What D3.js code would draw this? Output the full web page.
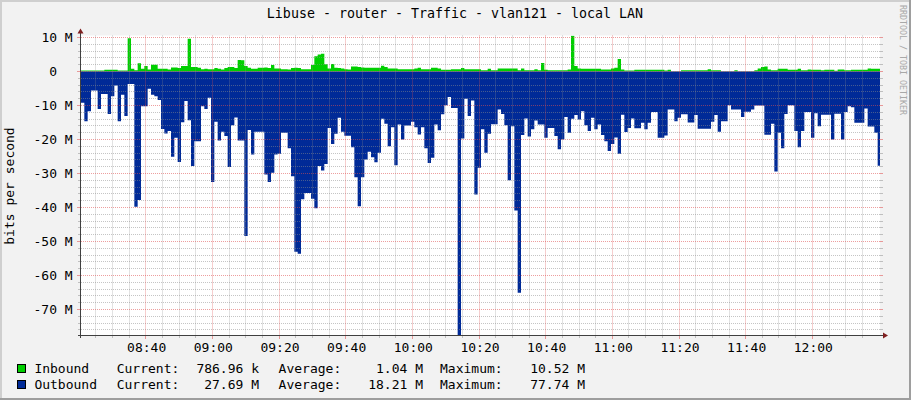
<!DOCTYPE html>
<html><head><meta charset="utf-8">
<script src="https://cdn.jsdelivr.net/npm/d3@7"></script>
<style>
html,body{margin:0;padding:0;background:#F2F2F2;}
svg{display:block;}
text{font-family:"DejaVu Sans Mono",monospace;fill:#000;}
</style></head><body>
<svg id="chart" width="911" height="400"></svg>
<script>
// ---------- data (Mbit/s, one sample per minute starting 08:20:36) ----------
const title = "Libuse - router - Traffic - vlan121 - local LAN";
const yTitle = "bits per second";
const watermark = "RRDTOOL / TOBI OETIKER";
const seriesNames = ["Inbound", "Outbound"];
const seriesColors = ["#00CF00", "#002A97"];
const inbound = [
0.3,0.3,0.3,0.3,0.3,0.3,0.3,0.5,0.5,0.5,
0.5,0.3,0.3,0.3,9.8,0.8,0.4,2.4,0.8,1.6,
0.6,2.0,2.0,0.8,0.8,0.8,0.6,1.2,1.2,1.0,
1.6,1.6,9.6,1.3,1.3,1.1,0.7,0.8,0.7,0.7,
1.0,0.8,0.6,1.0,1.3,1.3,1.0,3.4,3.3,1.6,
1.1,0.8,0.8,1.1,1.1,1.2,1.0,1.9,0.9,0.9,
0.7,0.7,0.6,1.0,1.1,1.0,0.7,0.7,0.7,1.9,
4.5,5.0,5.2,2.1,0.9,2.2,1.1,1.0,0.9,0.7,
0.6,1.5,1.5,1.3,1.2,1.1,1.1,1.1,1.1,1.1,
1.7,1.3,0.9,0.9,0.9,0.7,0.7,0.7,0.7,0.7,
0.9,1.1,0.7,0.7,0.7,1.1,1.1,0.9,0.5,0.5,
0.5,0.7,0.7,0.7,1.0,0.7,0.7,0.7,0.7,0.7,
0.4,0.4,0.8,0.4,0.4,0.9,0.9,0.9,0.9,0.9,
0.9,0.4,0.9,0.4,0.4,0.4,0.7,0.4,2.5,0.5,
0.4,0.4,0.4,0.4,0.4,0.4,0.6,10.52,1.6,0.9,
0.8,0.8,0.8,0.8,0.8,0.8,0.6,0.6,0.6,0.9,
1.1,3.7,0.6,0.3,0.3,0.3,0.5,0.5,0.5,0.5,
0.5,0.5,0.5,0.5,0.5,0.3,0.5,0.1,0.1,0.1,
0.4,0.4,0.4,0.4,0.4,0.4,0.4,0.4,0.7,0.4,
0.4,0.4,0.1,0.1,0.1,0.1,0.4,0.1,0.1,0.1,
0.1,0.1,0.4,0.9,1.3,1.5,0.6,0.4,0.4,0.8,
0.8,0.8,0.5,0.5,0.5,0.8,0.4,0.4,0.6,0.5,
0.5,0.5,0.4,0.5,0.5,0.5,0.2,0.6,0.6,0.4,
0.4,0.5,0.5,0.5,0.5,0.5,0.9,0.8,0.8,0.79
];
const outbound = [
9.2,14.6,11.7,5.6,5.6,11,6.6,6.6,12.5,7.3,
4.1,14.6,6.8,13.1,3.7,3.7,39.8,37.8,10.2,10.2,
5.1,6.8,7.3,8.4,16.9,18.2,17.5,25.1,19.5,26.6,
14.9,8.7,14.3,27.8,20.5,20.5,10.2,11,7.7,32.5,
14.8,20.3,17.7,19,28.1,15.8,13.5,20.3,20.3,48.4,
17.2,24.4,17.7,17.7,17.7,30.3,32.5,29.8,24.4,24.2,
18,18,22.6,30.8,53,53.6,37.6,35.7,35.7,37.4,
40.2,27.8,29.1,27.2,16.6,21.3,18.3,13.6,17.7,18.9,
18.9,22.3,31.1,39.6,31.1,25.9,23.6,25.2,26.7,23.9,
13.9,15.4,22,16.4,27.6,15.6,20,15.9,15.9,14.8,
16.4,18.5,16.4,22.6,26.9,25.4,15.6,17.3,12.6,9.9,
7.5,10.7,10.7,77.74,19.7,8,13.1,8.5,36.2,28.3,
17,23.9,18.3,15.5,15.5,11.2,12.5,15.8,32,16.1,
40.9,65.1,18.7,13.8,19.1,17,14.4,15.6,15.6,19.5,
16.6,16.6,19,22.9,20,13.4,18,13.9,12.8,14.1,
11.7,15.8,17.5,13.6,17,15.6,18.7,20.5,23.4,21.3,
19.4,24.2,12.7,17.8,16.6,13.8,16.7,16.7,15.1,17,
15.1,11.9,11.9,19.5,19.5,18.8,11.2,11.2,14.6,13.6,
12.6,12.6,15,15,12.8,16.8,16.8,16.8,16.8,14.8,
12.8,17.7,14.6,14.6,9.9,11.2,11.2,11.2,13.4,11.8,
11.8,11.2,10,10,10,18.6,18.6,15.4,29.4,18,
22.6,12.5,9.9,9.9,17.5,22.3,17.5,11.9,11.9,19.5,
12.3,16.1,12.7,12.7,12.7,20,12.4,12.4,20,11.9,
10.2,10.5,15.1,15.1,15.1,10.9,16.2,16.2,18,27.69
];
const yTickValues = [10,0,-10,-20,-30,-40,-50,-60,-70];
const xTickLabels = ["08:40","09:00","09:20","09:40","10:00","10:20","10:40","11:00","11:20","11:40","12:00"];
const statLabels = ["Current:","Average:","Maximum:"];
const statValues = [["786.96 k","1.04 M","10.52 M"],["27.69 M","18.21 M","77.74 M"]];

// ---------- layout ----------
const W = 911, H = 400;
const PL = 81, PR = 880, PT = 35.5, PB = 335;
const svg = d3.select("#chart");

const start = new Date(2000,0,1,8,20,36);
const end = new Date(start.getTime() + 799*18000);
const x = d3.scaleTime().domain([start, end]).range([PL, PR]);
const y = d3.scaleLinear().domain([-77.35, 10.59]).range([334.5, 35.5]);

// background & border shades
svg.append("rect").attr("width",W).attr("height",H).attr("fill","#F2F2F2");
svg.append("rect").attr("x",0).attr("y",0).attr("width",W).attr("height",2).attr("fill","#CFCFCF");
svg.append("rect").attr("x",0).attr("y",0).attr("width",2).attr("height",H).attr("fill","#CFCFCF");
svg.append("rect").attr("x",W-2).attr("y",0).attr("width",2).attr("height",H).attr("fill","#9E9E9E");
svg.append("rect").attr("x",0).attr("y",H-2).attr("width",W).attr("height",2).attr("fill","#9E9E9E");

// canvas
svg.append("rect").attr("x",PL).attr("y",PT).attr("width",PR-PL).attr("height",PB-PT).attr("fill","#FFFFFF");

svg.append("defs").append("clipPath").attr("id","clip")
  .append("rect").attr("x",PL).attr("y",PT).attr("width",PR-PL).attr("height",PB-PT);

// data areas
function pts(arr){
  const p = arr.map((v,i)=>({t:new Date(start.getTime()+i*60000), v}));
  p.push({t:end, v:arr[arr.length-1]});
  return p.filter(d=>d.t<=end);
}
const g = svg.append("g").attr("clip-path","url(#clip)");
g.append("path").datum(pts(inbound))
  .attr("fill",seriesColors[0])
  .attr("d", d3.area().curve(d3.curveStepAfter).x(d=>x(d.t)).y0(y(0)).y1(d=>y(d.v)));
g.append("path").datum(pts(outbound))
  .attr("fill",seriesColors[1])
  .attr("d", d3.area().curve(d3.curveStepAfter).x(d=>x(d.t)).y0(y(0)).y1(d=>y(-d.v)));

// grid
const minorCol = "rgba(140,140,140,0.5)", majorCol = "rgba(222,79,79,0.55)";
const snap = v => Math.round(v-0.5)+0.5;
const grid = svg.append("g");
const yMinor = d3.range(-76, 11, 2).filter(v=>v%10!==0);
yMinor.forEach(v=>{
  const yy = snap(y(v));
  grid.append("line").attr("x1",PL).attr("x2",PR).attr("y1",yy).attr("y2",yy)
    .attr("stroke",minorCol).attr("stroke-dasharray","1,1");
  grid.append("line").attr("x1",78).attr("x2",PL).attr("y1",yy).attr("y2",yy).attr("stroke",minorCol);
  grid.append("line").attr("x1",PR).attr("x2",PR+3).attr("y1",yy).attr("y2",yy).attr("stroke",minorCol);
});
const xMinor = d3.timeMinute.every(5).range(start, end).filter(t=>t.getMinutes()%20!==0);
xMinor.forEach(t=>{
  const xx = snap(x(t));
  grid.append("line").attr("x1",xx).attr("x2",xx).attr("y1",PT).attr("y2",PB)
    .attr("stroke",minorCol).attr("stroke-dasharray","1,1");
  grid.append("line").attr("x1",xx).attr("x2",xx).attr("y1",PB).attr("y2",PB+3).attr("stroke",minorCol);
});
yTickValues.forEach(v=>{
  const yy = snap(y(v));
  grid.append("line").attr("x1",PL).attr("x2",PR).attr("y1",yy).attr("y2",yy)
    .attr("stroke",majorCol).attr("stroke-dasharray","1,1");
  grid.append("line").attr("x1",77).attr("x2",PL).attr("y1",yy).attr("y2",yy).attr("stroke",majorCol);
  grid.append("line").attr("x1",PR).attr("x2",PR+3).attr("y1",yy).attr("y2",yy).attr("stroke",majorCol);
});
const parseHM = d3.timeParse("%H:%M");
const xMajor = xTickLabels.map(s=>{const p=parseHM(s); return new Date(2000,0,1,p.getHours(),p.getMinutes());});
xMajor.forEach(t=>{
  const xx = snap(x(t));
  grid.append("line").attr("x1",xx).attr("x2",xx).attr("y1",PT).attr("y2",PB)
    .attr("stroke",majorCol).attr("stroke-dasharray","1,1");
  grid.append("line").attr("x1",xx).attr("x2",xx).attr("y1",PB).attr("y2",PB+4).attr("stroke",majorCol);
});

// axes
const axisCol = "#404040", arrowCol = "#7F1F1F";
svg.append("line").attr("x1",78).attr("x2",884).attr("y1",PB+0.5).attr("y2",PB+0.5).attr("stroke",axisCol);
svg.append("line").attr("x1",80.5).attr("x2",80.5).attr("y1",338).attr("y2",32).attr("stroke",axisCol);
svg.append("path").attr("d","M77.5,33.5 L80.5,28.5 L83.5,33.5 Z").attr("fill",arrowCol);
svg.append("path").attr("d","M883,332.5 L888,335.5 L883,338.5 Z").attr("fill",arrowCol);

// y tick labels
yTickValues.forEach(v=>{
  const lbl = v===0 ? "0" : v+" M";
  svg.append("text").attr("x", v===0 ? 72.7-15.6 : 72.7).attr("y", y(v)+4.5)
    .attr("text-anchor","end").attr("font-size","13px").text(lbl);
});
// x tick labels
xMajor.forEach((t,i)=>{
  svg.append("text").attr("x", x(t)+1).attr("y", 352).attr("text-anchor","middle")
    .attr("font-size","13px").text(xTickLabels[i]);
});

// titles
svg.append("text").attr("x",455).attr("y",18).attr("text-anchor","middle")
  .attr("font-size","13.3px").text(title);
svg.append("text").attr("transform","translate(13.5,186) rotate(-90)")
  .attr("text-anchor","middle").attr("font-size","13px").text(yTitle);
svg.append("text").attr("transform","translate(899.5,5) rotate(90)")
  .attr("text-anchor","start").attr("font-size","8.3px").style("fill","#A8A8A8").text(watermark);

// legend
const rowY = [373, 389];
seriesNames.forEach((name,r)=>{
  const yy = rowY[r];
  svg.append("rect").attr("x",17.5).attr("y",yy-8.5).attr("width",8).attr("height",8)
    .attr("fill",seriesColors[r]).attr("stroke","#000");
  svg.append("text").attr("x",34.4).attr("y",yy).attr("font-size","13px").text(name);
  const labX = [116.7, 278.6, 440];
  const valR = [259, 423, 585];
  statLabels.forEach((s,k)=>{
    svg.append("text").attr("x",labX[k]).attr("y",yy).attr("font-size","13px").text(s);
    svg.append("text").attr("x",valR[k]).attr("y",yy).attr("text-anchor","end")
      .attr("font-size","13px").text(statValues[r][k]);
  });
});
</script>
</body></html>
